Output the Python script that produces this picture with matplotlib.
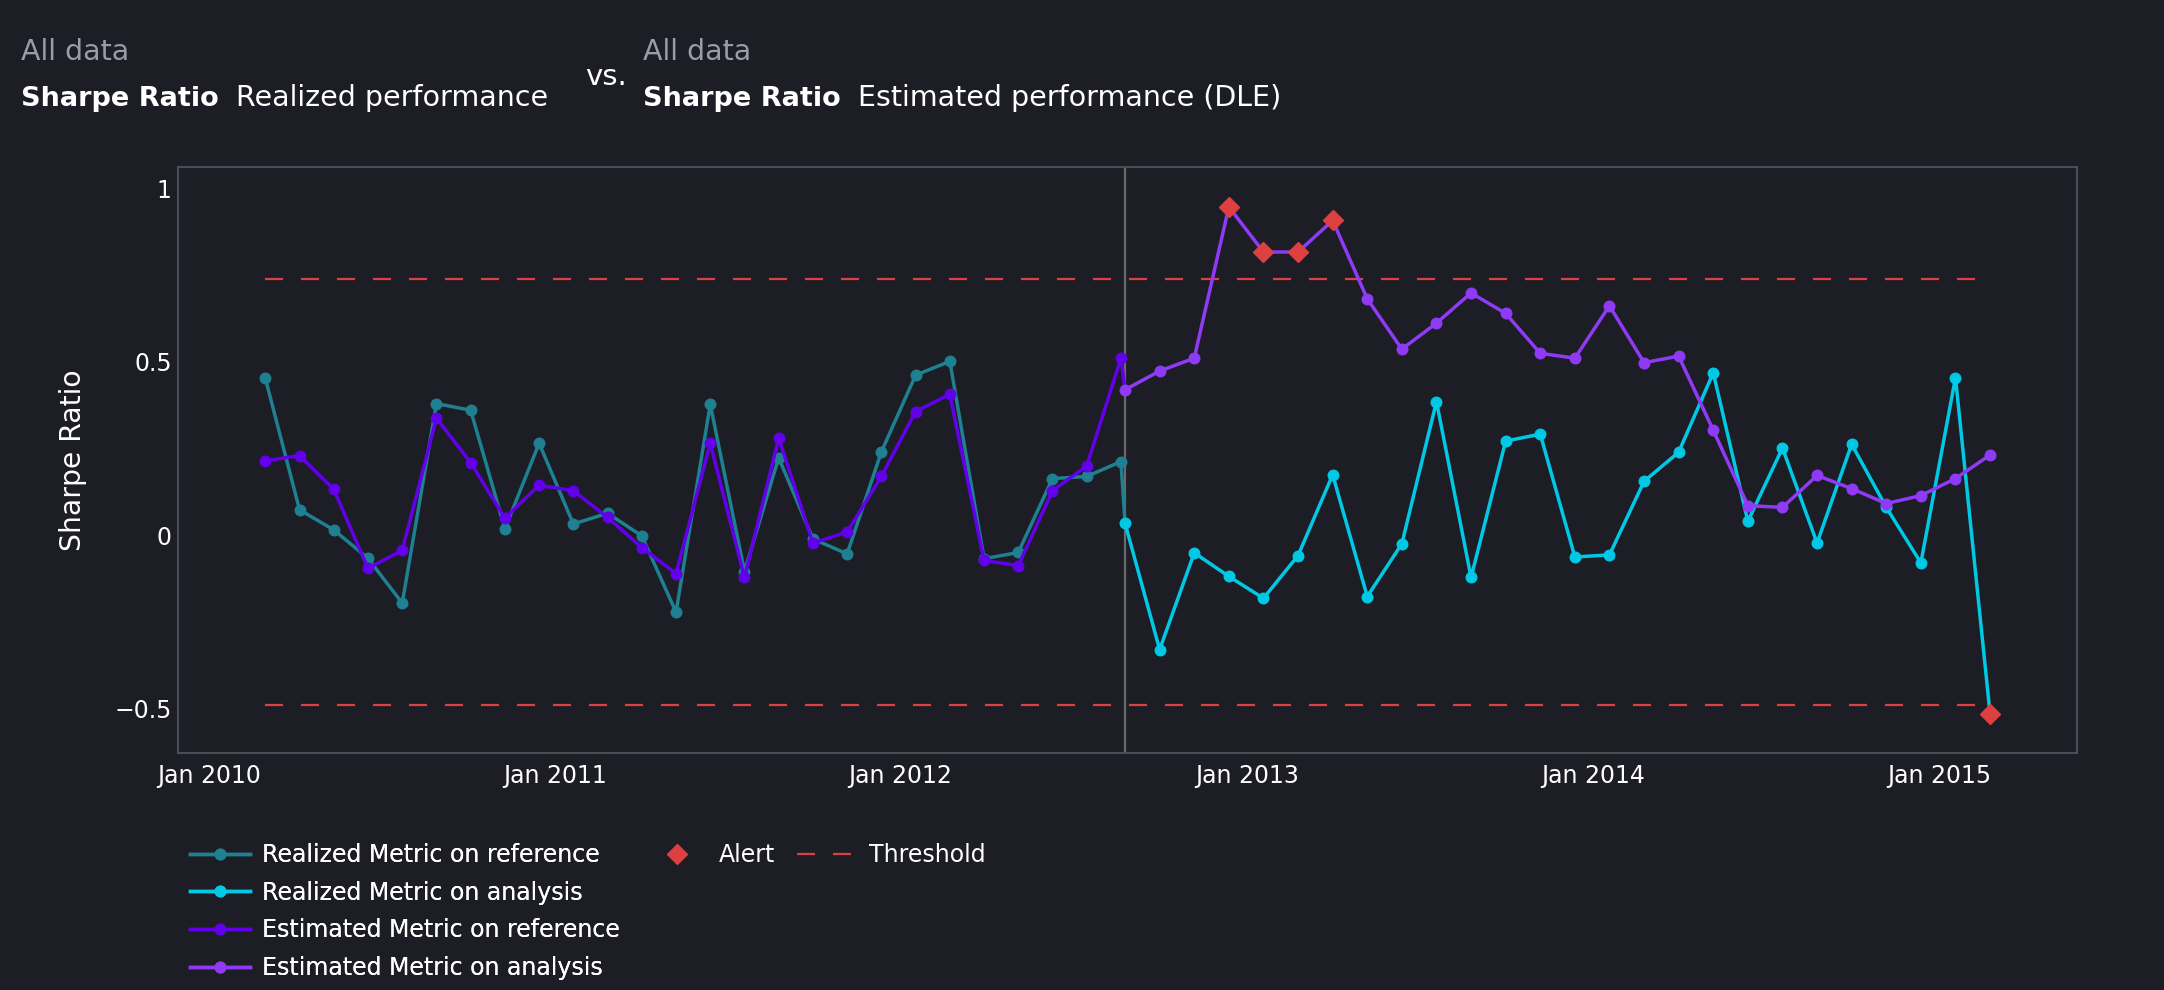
import numpy as np
import pandas as pd
import matplotlib
matplotlib.use("Agg")
import matplotlib.pyplot as plt
import matplotlib.dates as mdates
from matplotlib.lines import Line2D

# ---------------- data ----------------
ref_dates = pd.date_range("2010-03-01 12:00", "2012-08-20 14:00", periods=26)
ana_dates = pd.date_range("2012-08-24 22:00", "2015-02-23 22:00", periods=26)

realized_reference = [0.452, 0.073, 0.015, -0.067, -0.196, 0.379, 0.360, 0.018, 0.265, 0.032,
                      0.063, -0.002, -0.222, 0.377, -0.105, 0.223, -0.011, -0.054, 0.240, 0.461,
                      0.501, -0.068, -0.050, 0.163, 0.169, 0.212]
estimated_reference = [0.214, 0.229, 0.132, -0.096, -0.044, 0.337, 0.209, 0.049, 0.144, 0.128,
                       0.051, -0.036, -0.111, 0.265, -0.122, 0.280, -0.023, 0.009, 0.169, 0.356,
                       0.406, -0.073, -0.088, 0.128, 0.199, 0.510]
realized_analysis = [0.034, -0.330, -0.051, -0.119, -0.182, -0.059, 0.174, -0.177, -0.025, 0.385,
                     -0.122, 0.271, 0.291, -0.063, -0.057, 0.155, 0.239, 0.468, 0.040, 0.251,
                     -0.023, 0.262, 0.080, -0.080, 0.454, -0.515]
estimated_analysis = [0.419, 0.473, 0.510, 0.946, 0.816, 0.816, 0.907, 0.681, 0.536, 0.611,
                      0.698, 0.639, 0.524, 0.510, 0.661, 0.497, 0.516, 0.302, 0.085, 0.080,
                      0.172, 0.134, 0.091, 0.114, 0.163, 0.231]
upper_threshold = 0.738
lower_threshold = -0.491

ytick_values = [-0.5, 0, 0.5, 1]
ytick_labels = ["\u22120.5", "0", "0.5", "1"]

legend_labels = ["Realized Metric on reference", "Realized Metric on analysis",
                 "Estimated Metric on reference", "Estimated Metric on analysis",
                 "Alert", "Threshold"]

# ---------------- style ----------------
BG = "#1c1d25"
C_REAL_REF = "#1e8091"
C_REAL_ANA = "#00c8e5"
C_EST_REF = "#6200ea"
C_EST_ANA = "#8f3af5"
C_RED = "#dd4040"
C_FRAME = "#4a4d58"
C_VLINE = "#6a6a6a"
TXT = "#ffffff"
SUB = "#9a9ca6"

W, H = 2164, 990
fig = plt.figure(figsize=(W / 100, H / 100), dpi=100, facecolor=BG)
L, R, T, B = 178, 2077, 167, 753
ax = fig.add_axes([L / W, 1 - B / H, (R - L) / W, (B - T) / H], facecolor=BG)

LW = 2.5
MS = 7.6

# thresholds
for thr in (upper_threshold, lower_threshold):
    ax.plot([ref_dates[0], ana_dates[-1]], [thr, thr], color=C_RED, lw=1.6,
            dashes=(8.1, 8.1), zorder=2)

# vertical separator
ax.axvline(ana_dates[0], color=C_VLINE, lw=1.6, zorder=1)

# realized reference (connected to first analysis point)
ax.plot([ref_dates[-1], ana_dates[0]], [realized_reference[-1], realized_analysis[0]],
        color=C_REAL_REF, lw=LW, zorder=3)
ax.plot(ref_dates, realized_reference, color=C_REAL_REF, lw=LW, marker="o", ms=MS, zorder=3)
# realized analysis
ax.plot(ana_dates, realized_analysis, color=C_REAL_ANA, lw=LW, marker="o", ms=MS, zorder=4)
# estimated reference
ax.plot([ref_dates[-1], ana_dates[0]], [estimated_reference[-1], estimated_analysis[0]],
        color=C_EST_REF, lw=LW, zorder=5)
ax.plot(ref_dates, estimated_reference, color=C_EST_REF, lw=LW, marker="o", ms=MS, zorder=5)
# estimated analysis
ax.plot(ana_dates, estimated_analysis, color=C_EST_ANA, lw=LW, marker="o", ms=MS, zorder=6)

# alerts
for vals in (estimated_analysis, realized_analysis):
    v = np.asarray(vals)
    m = (v > upper_threshold) | (v < lower_threshold)
    ax.plot(ana_dates[m], v[m], linestyle="none", marker="D", ms=10.5, color=C_RED, zorder=7)

# axes
ax.set_xlim(pd.Timestamp("2009-11-29 08:00"), pd.Timestamp("2015-05-26 16:00"))
ax.set_ylim(-0.628, 1.061)
ax.xaxis.set_major_locator(mdates.YearLocator())
ax.xaxis.set_major_formatter(mdates.DateFormatter("%b %Y"))
ax.set_yticks(ytick_values)
ax.set_yticklabels(ytick_labels)
ax.tick_params(axis="both", length=0, colors=TXT, labelsize=17)
ax.tick_params(axis="x", pad=8)
ax.tick_params(axis="y", pad=4.5)
for s in ax.spines.values():
    s.set_color(C_FRAME)
    s.set_linewidth(1.5)

fig.text(73 / W, 1 - 460 / H, "Sharpe Ratio", rotation=90, ha="center", va="center",
         color=TXT, fontsize=20.3)

# titles
FS_T = 20.5
FS_B = 19.5
fig.text(21 / W, 1 - 60 / H, "All data", color=SUB, fontsize=FS_T, va="baseline")
fig.text(21 / W, 1 - 106 / H, "Sharpe Ratio", color=TXT, fontsize=FS_B, fontweight="bold", va="baseline")
fig.text(236 / W, 1 - 106 / H, "Realized performance", color=TXT, fontsize=FS_T, va="baseline")
fig.text(585 / W, 1 - 85 / H, "vs.", color=TXT, fontsize=21, va="baseline")
fig.text(643 / W, 1 - 60 / H, "All data", color=SUB, fontsize=FS_T, va="baseline")
fig.text(643 / W, 1 - 106 / H, "Sharpe Ratio", color=TXT, fontsize=FS_B, fontweight="bold", va="baseline")
fig.text(858 / W, 1 - 106 / H, "Estimated performance (DLE)", color=TXT, fontsize=FS_T, va="baseline")

# legends
h1 = [Line2D([], [], color=c, lw=LW, marker="o", ms=MS)
      for c in (C_REAL_REF, C_REAL_ANA, C_EST_REF, C_EST_ANA)]
leg1 = fig.legend(h1, legend_labels[:4], loc="upper left",
                  bbox_to_anchor=(190 / W, 1 - 843 / H), frameon=False, fontsize=17,
                  labelcolor=TXT, handlelength=2.55, handletextpad=0.5, labelspacing=0.58,
                  borderpad=0, borderaxespad=0)
h2 = [Line2D([], [], linestyle="none", marker="D", ms=10.5, color=C_RED),
      Line2D([], [], color=C_RED, lw=1.6, dashes=(8.1, 8.1))]
leg2 = fig.legend(h2, legend_labels[4:], loc="upper left", ncol=2,
                  bbox_to_anchor=(647 / W, 1 - 843 / H), frameon=False, fontsize=17,
                  labelcolor=TXT, handlelength=2.55, handletextpad=0.5, columnspacing=0.93,
                  borderpad=0, borderaxespad=0)
fig.add_artist(leg1)

fig.savefig("out.png", dpi=100, facecolor=BG)
